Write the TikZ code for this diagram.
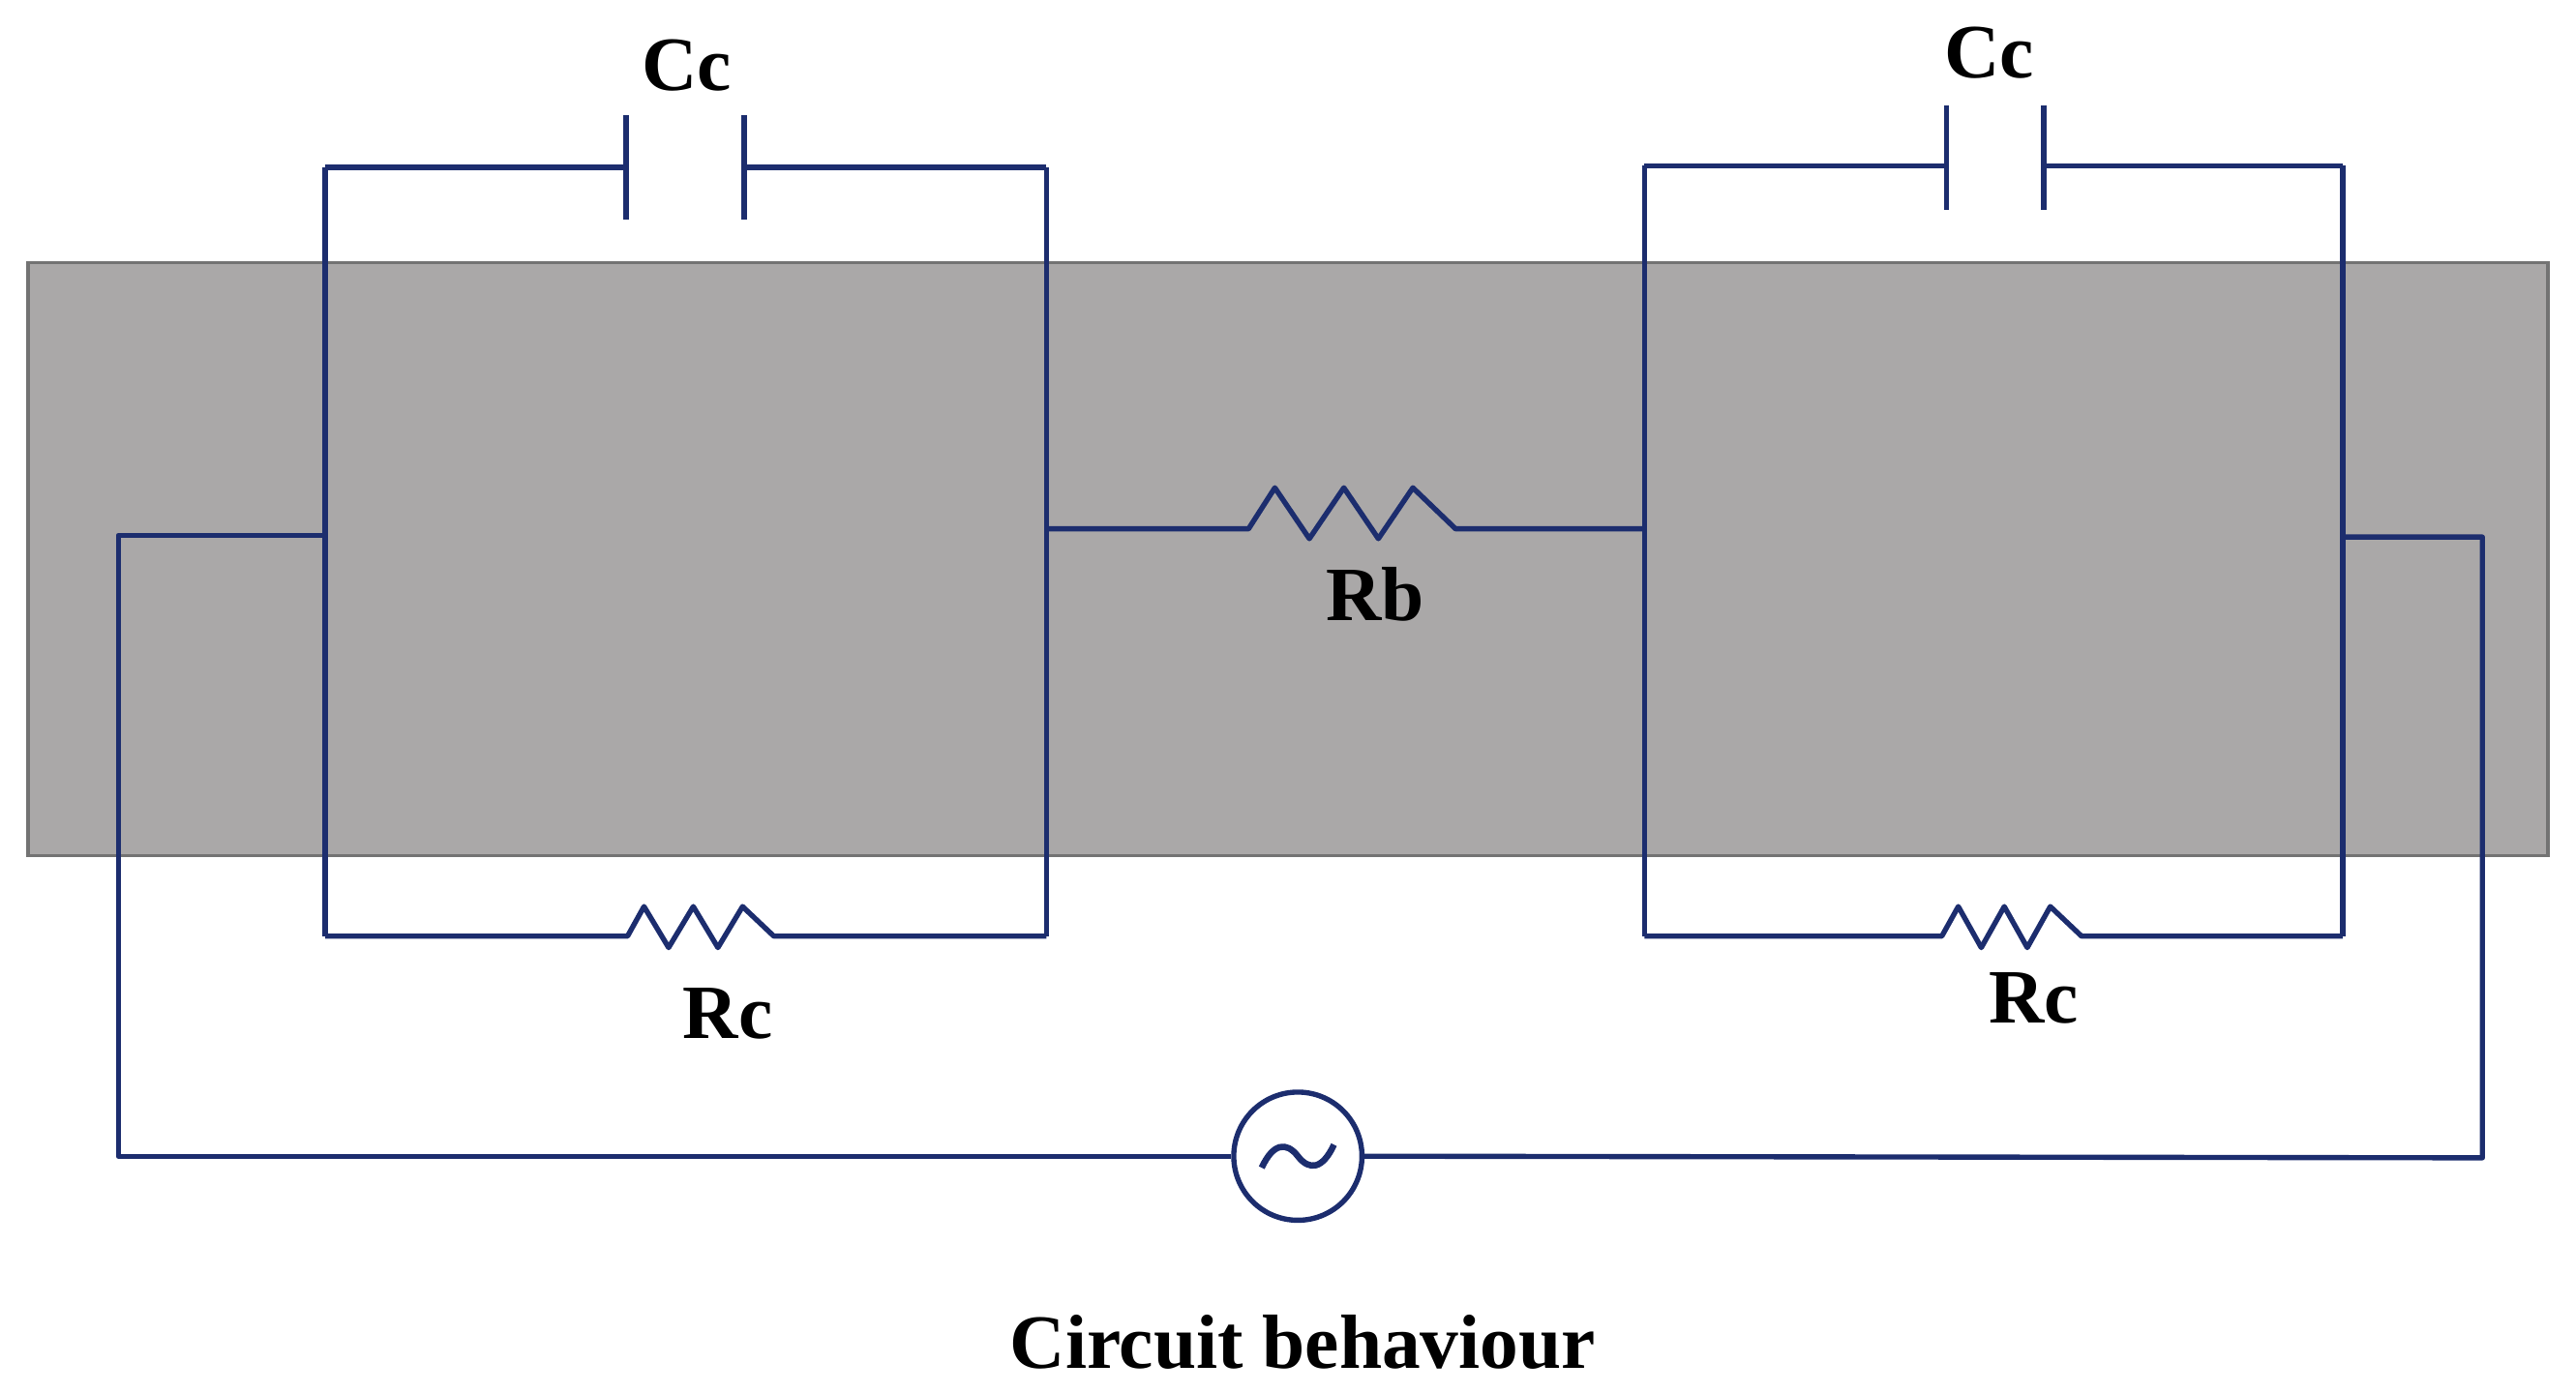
\documentclass[tikz,border=0pt]{standalone}
\usepackage{fontspec}
\setmainfont{Liberation Serif}
\definecolor{wire}{RGB}{28,45,110}
\definecolor{slab}{RGB}{170,168,168}
\begin{document}
\begin{tikzpicture}[x=0.01cm,y=-0.01cm,
  w/.style={draw=wire,line width=0.9pt,line join=round},
  lbl/.style={font=\bfseries\fontsize{13.3}{16}\selectfont,inner sep=0pt}]
\useasboundingbox (0,0) rectangle (1568,848);
\fill[slab,draw=black!55,line width=0.6pt] (17,160) rectangle (1551,521);
% left cell
\coordinate (L1) at (198,102); \coordinate (L2) at (637,102);
\coordinate (L3) at (198,570); \coordinate (L4) at (637,570);
\draw[w] (L1) -- (381,102); \draw[w] (453,102) -- (L2);
\draw[w] (381,70) -- (381,134); \draw[w] (453,70) -- (453,134);
\draw[w] (L1) -- (L3); \draw[w] (L2) -- (L4);
\draw[w] (L3) -- (382,570) -- (392,552) -- (407,577) -- (422,552) -- (437,577) -- (452,552) -- (471,570) -- (L4);
\node[lbl] (cc1) at (418,40) {Cc};
\node[lbl] (rc1) at (443,617) {Rc};
% right cell
\coordinate (R1) at (1001,101); \coordinate (R2) at (1426,101);
\coordinate (R3) at (1001,570); \coordinate (R4) at (1426,570);
\draw[w] (R1) -- (1185,101); \draw[w] (1244,101) -- (R2);
\draw[w] (1185,64) -- (1185,128); \draw[w] (1244,64) -- (1244,128);
\draw[w] (R1) -- (R3); \draw[w] (R2) -- (R4);
\draw[w] (R3) -- (1182,570) -- (1192,552) -- (1206,577) -- (1220,552) -- (1234,577) -- (1248,552) -- (1267,570) -- (R4);
\node[lbl] (cc2) at (1211,32) {Cc};
\node[lbl] (rc2) at (1238,608) {Rc};
% middle
\draw[w] (637,322) -- (760,322) -- (776,297) -- (797,328) -- (818,297) -- (839,328) -- (860,297) -- (886,322) -- (1001,322);
\node[lbl] (rb) at (837,362) {Rb};
% source
\node[draw=wire,line width=0.9pt,circle,minimum size=0.78cm,inner sep=0pt] (src) at (790,704) {};
\draw[w,line width=1.1pt] (768,711) .. controls (775,696) and (783,695) .. (790,704) .. controls (797,713) and (805,712) .. (812,697);
\draw[w] (198,326) -- (72,326) -- (72,704) -- (src.west);
\draw[w] (1426,327) -- (1511,327) -- (1511,705) -- (src.east);
\node[lbl] (t) at (793,817) {Circuit behaviour};
\end{tikzpicture}
\end{document}
